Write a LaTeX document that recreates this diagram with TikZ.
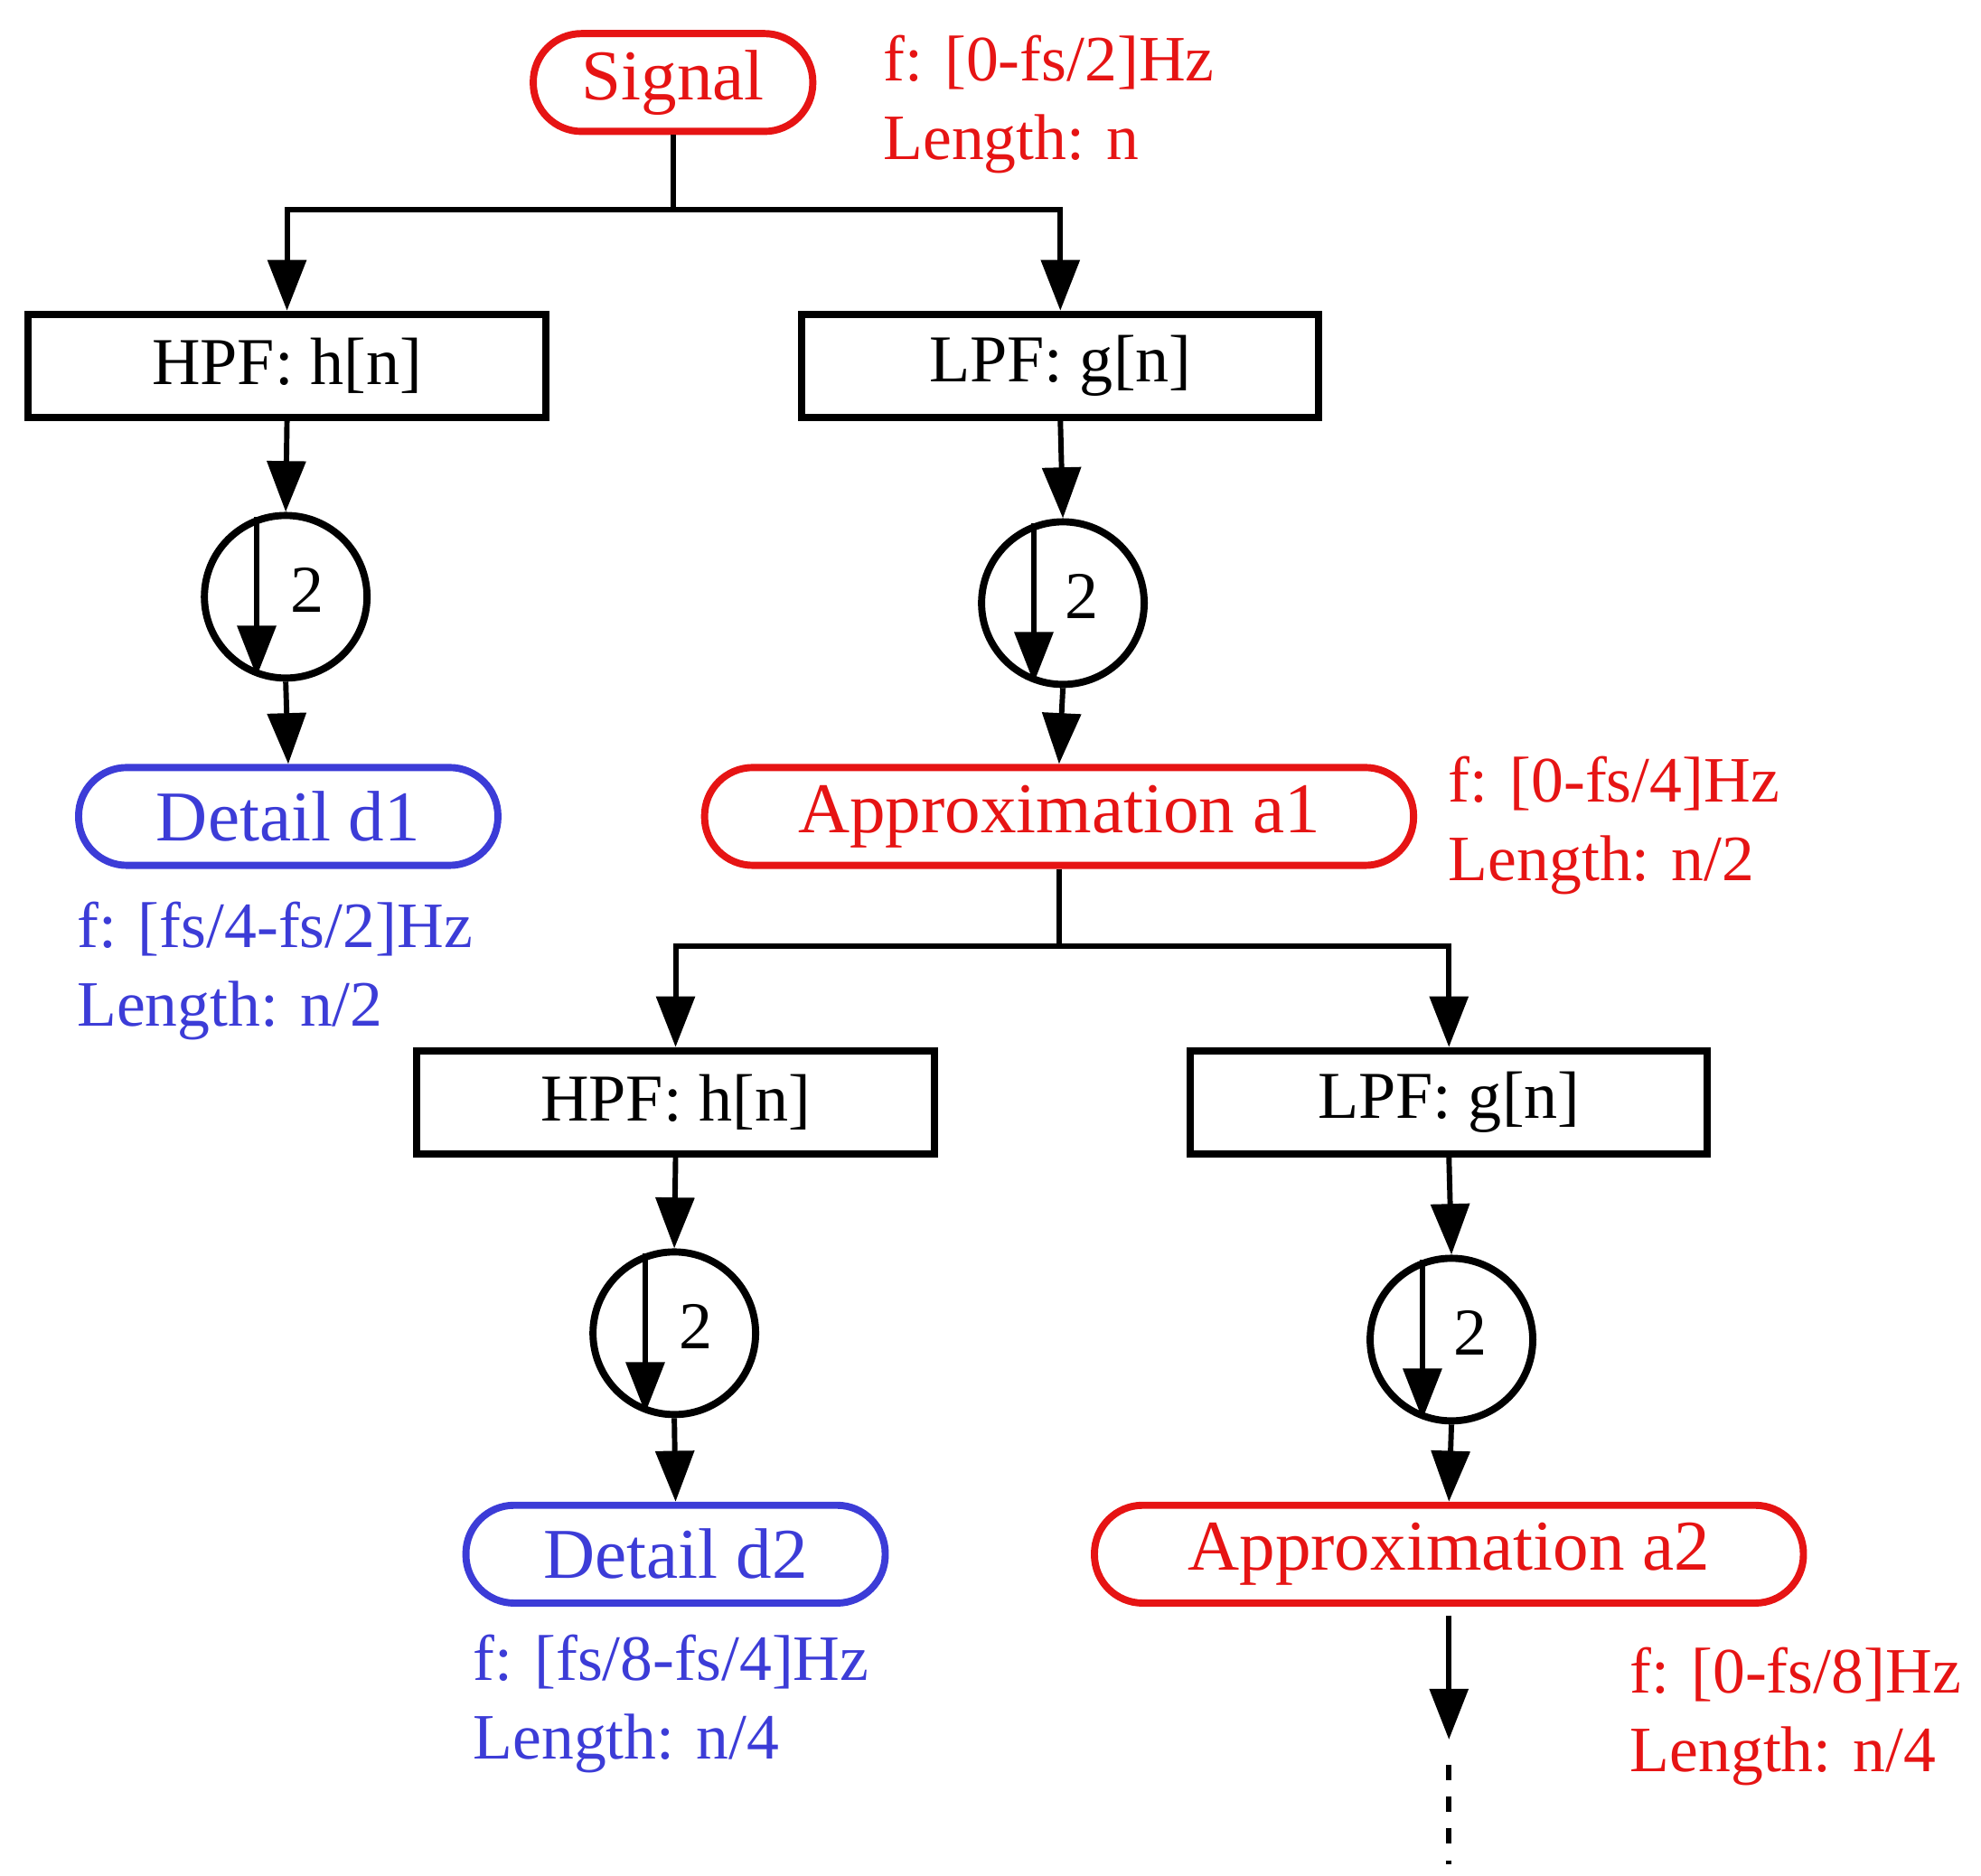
\documentclass[tikz,border=0pt]{standalone}
\usepackage{fontspec}
\setmainfont{Liberation Serif}
\usetikzlibrary{arrows.meta,positioning,calc}
\definecolor{myred}{RGB}{230,20,20}
\definecolor{myblue}{RGB}{60,60,215}
\begin{document}
\begin{tikzpicture}[x=0.01cm,y=-0.01cm,
  arr/.style={line width=1.2pt,-{Triangle[length=0.4cm,width=0.3cm]}},
  ln/.style={line width=1.2pt},
  box/.style={draw,line width=1.6pt,minimum width=4.07cm,minimum height=0.81cm,inner sep=0pt,font=\fontsize{15}{18}\selectfont},
  rbox/.style={draw,line width=1.6pt,rounded corners=0.38cm,minimum height=0.77cm,inner sep=0pt,font=\fontsize{16}{19}\selectfont},
  ds/.style={draw,circle,line width=1.6pt,minimum size=1.28cm,inner sep=0pt},
  lbl/.style={anchor=west,align=left,font=\fontsize{14.5}{17.6}\selectfont,inner sep=0pt}]
\useasboundingbox (0,0) rectangle (1560,1477);
% level 0
\node[rbox,myred,minimum width=2.2cm] (sig) at (530,65) {Signal};
\node[lbl,myred] (l0) at (695,82) {f: [0-fs/2]Hz\\Length: n};
\coordinate (j0) at (530,165);
\node[box] (h1) at (226,288) {HPF: h[n]};
\node[box] (g1) at (835,288) {LPF: g[n]};
\draw[ln] (sig.south) -- (j0);
\draw[arr] (j0) -| (h1.north);
\draw[arr] (j0) -| (g1.north);
\node[ds] (c1) at (225,470) {};
\node[ds] (c2) at (837,475) {};
\foreach \c in {c1,c2,c3,c4}{}
\node[box,draw=none,minimum width=0pt] at (242,465) {2};
\node[box,draw=none,minimum width=0pt] at (852,470) {2};
\draw[arr] (h1.south) -- (c1.north);
\draw[arr] (g1.south) -- (c2.north);
\draw[arr] (c1.110) -- (c1.250);
\draw[arr] (c2.110) -- (c2.250);
\node[rbox,myblue,minimum width=3.3cm] (d1) at (227,643) {Detail d1};
\node[rbox,myred,minimum width=5.58cm] (a1) at (834,643) {Approximation a1};
\draw[arr] (c1.south) -- (d1.north);
\draw[arr] (c2.south) -- (a1.north);
\node[lbl,myred] at (1140,650) {f: [0-fs/4]Hz\\Length: n/2};
\node[lbl,myblue] at (60,765) {f: [fs/4-fs/2]Hz\\Length: n/2};
% level 2
\coordinate (j1) at (834,745);
\node[box] (h2) at (532,868) {HPF: h[n]};
\node[box] (g2) at (1141,868) {LPF: g[n]};
\draw[ln] (a1.south) -- (j1);
\draw[arr] (j1) -| (h2.north);
\draw[arr] (j1) -| (g2.north);
\node[ds] (c3) at (531,1050) {};
\node[ds] (c4) at (1143,1055) {};
\node[box,draw=none,minimum width=0pt] at (548,1045) {2};
\node[box,draw=none,minimum width=0pt] at (1158,1050) {2};
\draw[arr] (h2.south) -- (c3.north);
\draw[arr] (g2.south) -- (c4.north);
\draw[arr] (c3.110) -- (c3.250);
\draw[arr] (c4.110) -- (c4.250);
\node[rbox,myblue,minimum width=3.3cm] (d2) at (532,1224) {Detail d2};
\node[rbox,myred,minimum width=5.58cm] (a2) at (1141,1224) {Approximation a2};
\draw[arr] (c3.south) -- (d2.north);
\draw[arr] (c4.south) -- (a2.north);
\node[lbl,myblue] at (372,1342) {f: [fs/8-fs/4]Hz\\Length: n/4};
\node[lbl,myred] at (1283,1352) {f: [0-fs/8]Hz\\Length: n/4};
\coordinate (e1) at (1141,1370);
\coordinate (e2) at (1141,1390);
\coordinate (e3) at (1141,1468);
\draw[arr] ([yshift=-0.07cm]a2.south) -- (e1);
\draw[ln,dash pattern=on 0.12cm off 0.13cm] (e2) -- (e3);
\end{tikzpicture}
\end{document}
